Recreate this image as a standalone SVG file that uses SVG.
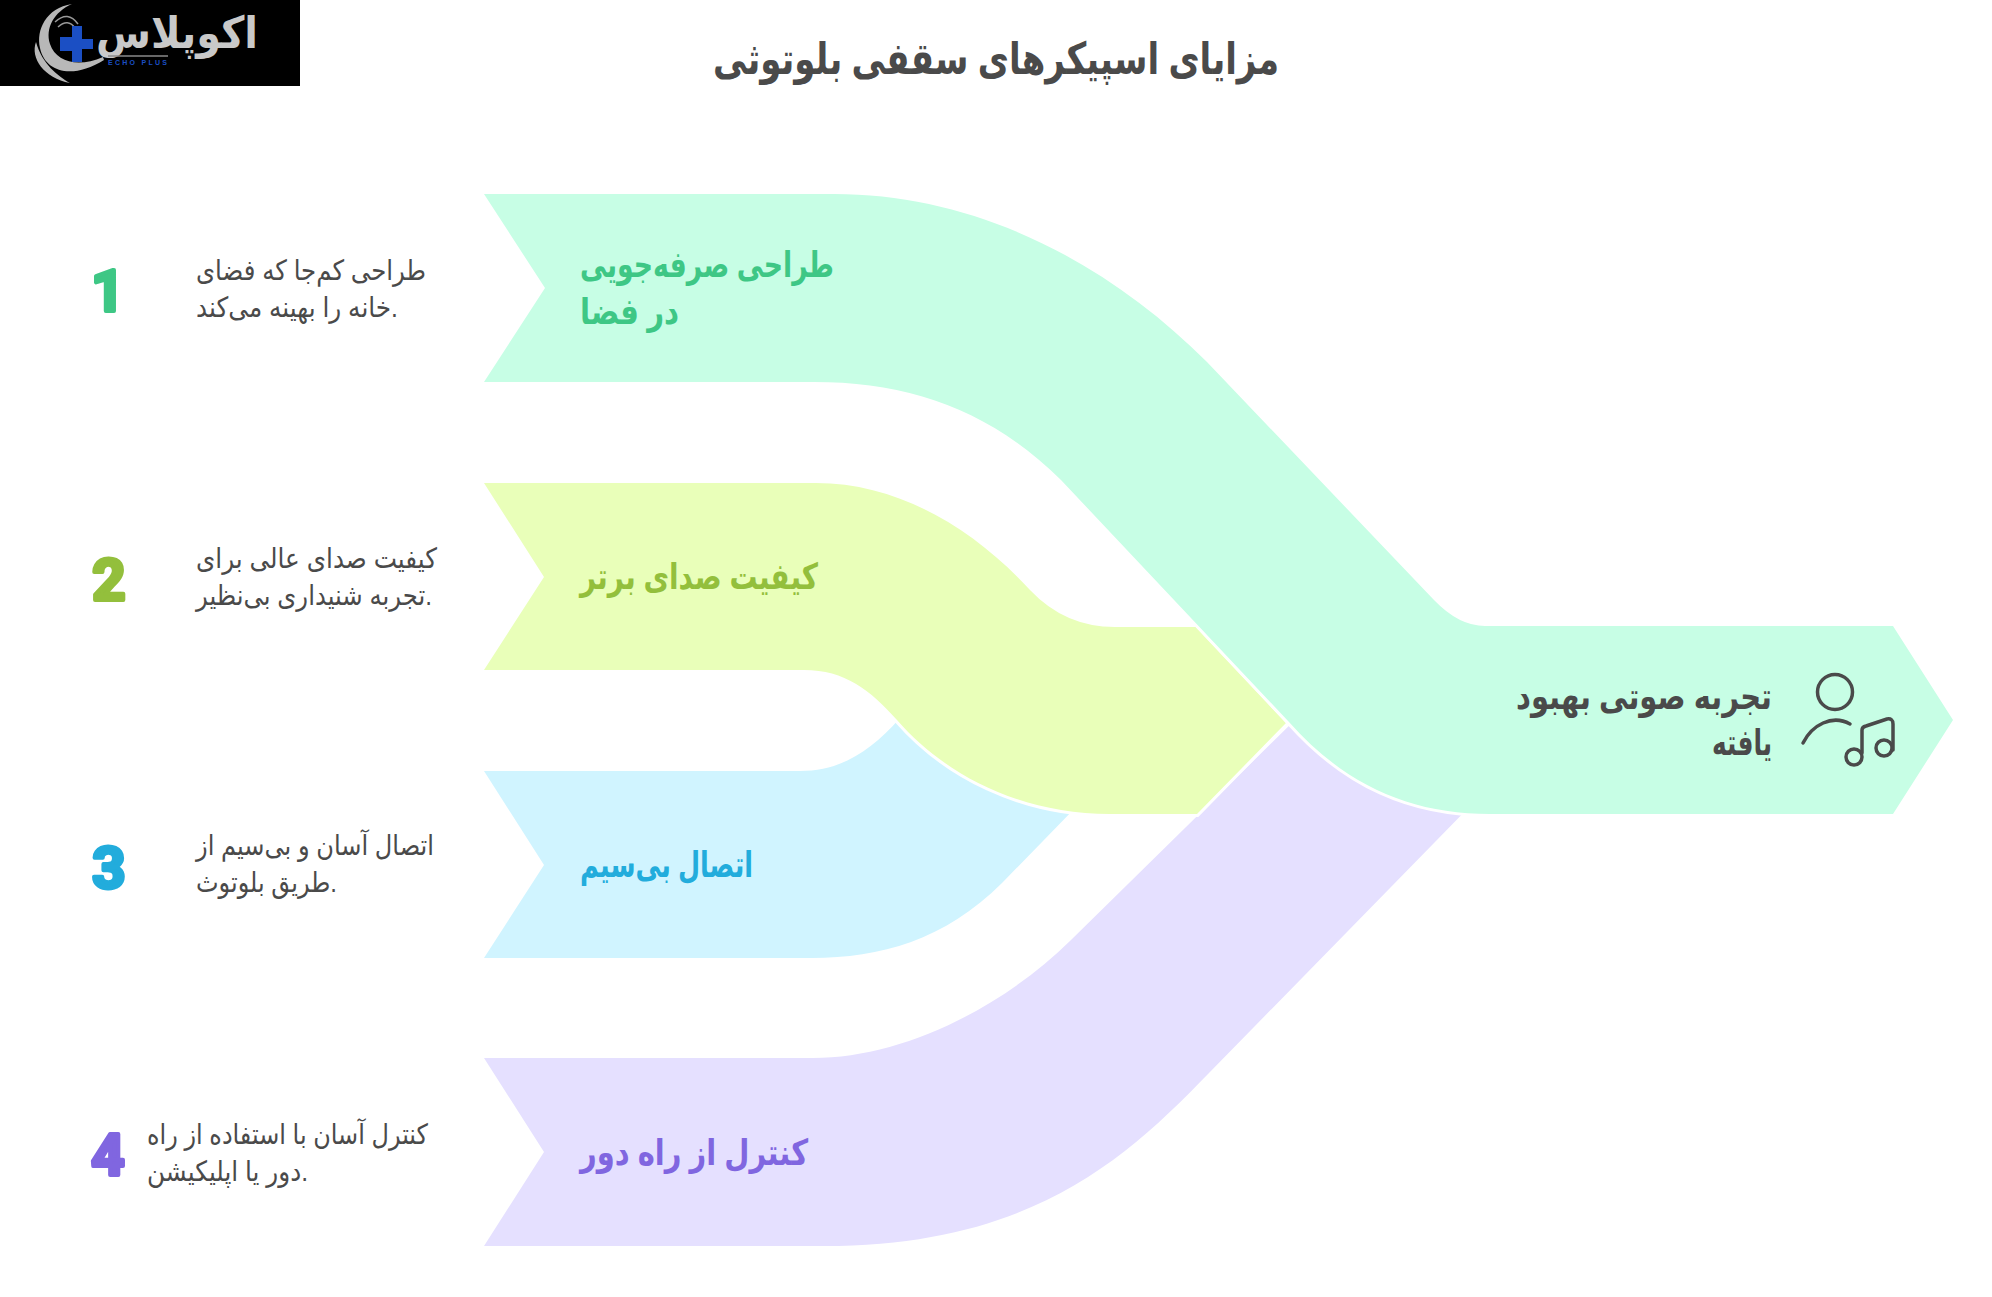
<svg xmlns="http://www.w3.org/2000/svg" width="1992" height="1297" viewBox="0 0 1992 1297">
<style>
text{font-family:"Liberation Sans","DejaVu Sans",sans-serif}
.t{font-size:28px;fill:#4a4a4a}
.h{font-size:36px;font-weight:700}
.n{font-size:58px;font-weight:700;text-anchor:middle;stroke-width:4;stroke-linejoin:round;font-family:Roboto,sans-serif}
.b{stroke:#fff;stroke-width:6;paint-order:stroke;stroke-linejoin:miter}
.g{fill:#4a4a4a}
.i{fill:none;stroke:#4a4a4a;stroke-width:3.5;stroke-linecap:round;stroke-linejoin:round}
</style>
<rect width="1992" height="1297" fill="#fff"/>
<g id="connectors">
<path id="band-4" d="M484 1058H813C900 1058 1000 1010 1071 940L1300 715L1478 798L1209 1073C1125 1160 1030 1246 824 1246H484L544 1152Z" fill="#e5e0ff"/>
<path id="band-3" d="M484 771H800C840 771 870 752 900 718L1078 805L1002 883C945 940 880 958 812 958H484L544 865Z" fill="#d0f4ff"/>
<path id="band-2" class="b" d="M484 483H816C900 483 975 530 1030 590Q1065 627 1115 627H1196L1286 723L1197 814H1110C1020 814 945 775 897 720C870 690 845 670 804 670H484L544 577Z" fill="#e9ffb9"/>
<path id="band-1" class="b" d="M484 194H834C980 194 1110 265 1207 362L1434 600Q1459 626 1485 626H1893L1953 720L1893 814H1490C1410 814 1345 785 1289 722L1061 480C990 410 910 382 814 382H484L545 288Z" fill="#c7fee5"/>
</g>
<g id="logo">
<rect width="300" height="86" fill="#000"/>
<path d="M72 4C46 8 36 30 40 48C45 72 72 80 104 60L103 57C78 68 56 62 50 44C45 28 54 12 72 4Z" fill="#b8b8b8"/>
<path d="M36 42C30 58 44 78 70 83C58 76 42 64 36 42Z" fill="#b8b8b8"/>
<path d="M55 22Q68 10 78 24M58 27Q68 18 75 28" fill="none" stroke="#9a9a9a" stroke-width="1.5"/>
<path d="M72 26h10v36h-10zM82 39h11v10h-11zM60 37h12v14h-12z" fill="#1b4fc4"/>
<text x="96" y="48" font-size="44" font-weight="700" fill="#c9c9c9" textLength="162" lengthAdjust="spacingAndGlyphs">اکوپلاس</text>
<path d="M108 56H168" stroke="#8a8a8a" stroke-width="1.5"/>
<text x="108" y="65" font-size="7" font-weight="700" fill="#1b4fc4" textLength="59">ECHO PLUS</text>
</g>
<g id="title"><text x="713" y="74" font-size="44" font-weight="700" fill="#4a4a4a" textLength="566" lengthAdjust="spacingAndGlyphs">مزایای اسپیکرهای سقفی بلوتوثی</text></g>
<g id="node-1">
<text class="n" x="108" y="311" fill="#3ec785" stroke="#3ec785">1</text>
<text class="t" x="196" y="280" textLength="230" lengthAdjust="spacingAndGlyphs">طراحی کم‌جا که فضای</text>
<text class="t" x="196" y="317" textLength="202" lengthAdjust="spacingAndGlyphs">خانه را بهینه می‌کند.</text>
<text class="h" x="580" y="277" fill="#3ec785" textLength="254" lengthAdjust="spacingAndGlyphs">طراحی صرفه‌جویی</text>
<text class="h" x="580" y="324" fill="#3ec785" textLength="99" lengthAdjust="spacingAndGlyphs">در فضا</text>
</g>
<g id="node-2">
<text class="n" x="109" y="600" fill="#93bf3c" stroke="#93bf3c">2</text>
<text class="t" x="196" y="568" textLength="241" lengthAdjust="spacingAndGlyphs">کیفیت صدای عالی برای</text>
<text class="t" x="196" y="605" textLength="236" lengthAdjust="spacingAndGlyphs">تجربه شنیداری بی‌نظیر.</text>
<text class="h" x="580" y="589" fill="#93bf3c" textLength="238" lengthAdjust="spacingAndGlyphs">کیفیت صدای برتر</text>
</g>
<g id="node-3">
<text class="n" x="109" y="888" fill="#22acdc" stroke="#22acdc">3</text>
<text class="t" x="196" y="855" textLength="238" lengthAdjust="spacingAndGlyphs">اتصال آسان و بی‌سیم از</text>
<text class="t" x="196" y="892" textLength="141" lengthAdjust="spacingAndGlyphs">طریق بلوتوث.</text>
<text class="h" x="580" y="877" fill="#22acdc" textLength="173" lengthAdjust="spacingAndGlyphs">اتصال بی‌سیم</text>
</g>
<g id="node-4">
<text class="n" x="108" y="1175" fill="#8066e0" stroke="#8066e0">4</text>
<text class="t" x="147" y="1144" textLength="281" lengthAdjust="spacingAndGlyphs">کنترل آسان با استفاده از راه</text>
<text class="t" x="147" y="1181" textLength="161" lengthAdjust="spacingAndGlyphs">دور یا اپلیکیشن.</text>
<text class="h" x="580" y="1165" fill="#8066e0" textLength="228" lengthAdjust="spacingAndGlyphs">کنترل از راه دور</text>
</g>
<g id="node-result">
<text class="h g" x="1516" y="709" textLength="256" lengthAdjust="spacingAndGlyphs">تجربه صوتی بهبود</text>
<text class="h g" x="1712" y="755" textLength="60" lengthAdjust="spacingAndGlyphs">یافته</text>
<g class="i">
<circle cx="1835" cy="692" r="17.5"/>
<path d="M1803 743C1812 725 1832 714 1850 724"/>
<circle cx="1854" cy="757" r="8"/>
<circle cx="1884" cy="748" r="8"/>
<path d="M1862 753V730Q1862 727 1866 726L1887 719Q1893 718 1893 724V750"/>
</g>
</g>
</svg>
